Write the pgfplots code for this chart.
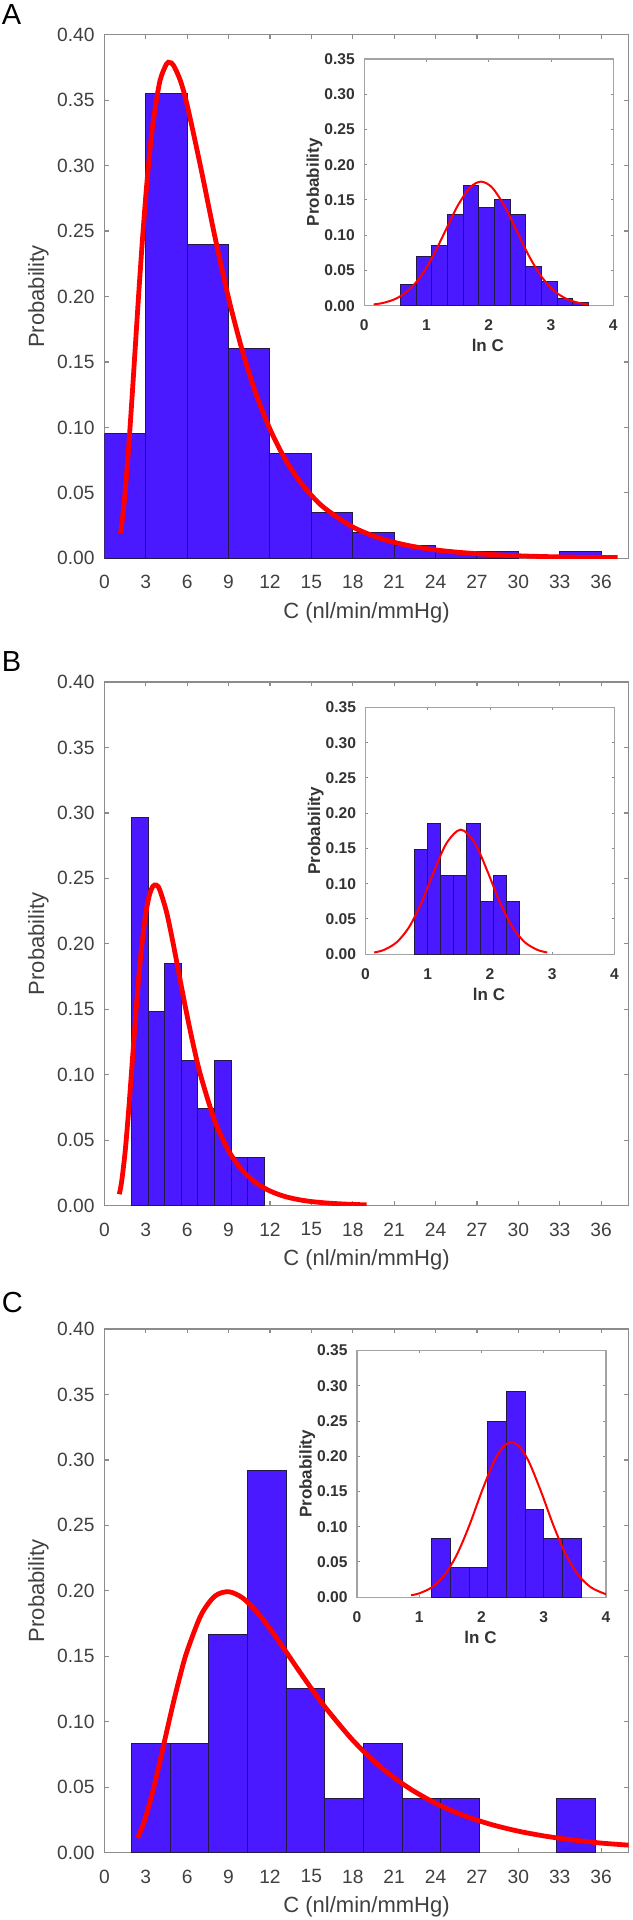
\documentclass[border=0pt]{standalone}
\usepackage{fontspec}
\setmainfont{Liberation Sans}
\usepackage{pgfplots}
\pgfplotsset{compat=1.18}
\definecolor{barblue}{RGB}{75,25,255}
\definecolor{baredge}{RGB}{35,25,70}
\definecolor{axgray}{RGB}{140,140,140}
\definecolor{txtgray}{RGB}{64,64,64}
\definecolor{curvered}{RGB}{255,0,0}
\pgfplotsset{
  mainax/.style={
    scale only axis, width=262.15pt, height=261.8pt, anchor=north west,
    xmin=0, xmax=38, ymin=0, ymax=0.40,
    xtick={0,3,6,9,12,15,18,21,24,27,30,33,36},
    ytick={0,0.05,0.10,0.15,0.20,0.25,0.30,0.35,0.40},
    /pgf/number format/assume math mode=true,
    yticklabel style={/pgf/number format/fixed,/pgf/number format/fixed zerofill,/pgf/number format/precision=2, xshift=-1.4pt},
    tick label style={font=\fontsize{9.6}{11}\selectfont, text=txtgray},
    xticklabel style={yshift=-5pt},
    axis line style={axgray, line width=0.7pt},
    tick style={axgray, line width=0.6pt},
    major tick length=2.2pt,
    xlabel={C (nl/min/mmHg)}, ylabel={Probability},
    label style={font=\fontsize{11}{13}\selectfont, text=txtgray},
    xlabel style={at={(axis description cs:0.5,-0.104)}, anchor=center},
    ylabel style={at={(axis description cs:-0.126,0.5)}, anchor=center},
  },
  insetax/.style={
    scale only axis, width=124.5pt, height=123.35pt, anchor=north west,
    xmin=0, xmax=4, ymin=0, ymax=0.35,
    xtick={0,1,2,3,4},
    ytick={0,0.05,0.10,0.15,0.20,0.25,0.30,0.35},
    /pgf/number format/assume math mode=true,
    yticklabel style={/pgf/number format/fixed,/pgf/number format/fixed zerofill,/pgf/number format/precision=2, xshift=-1.2pt},
    tick label style={font=\bfseries\fontsize{7.8}{9}\selectfont, text=black!80},
    xticklabel style={yshift=-3.6pt},
    axis line style={axgray!80, line width=0.6pt},
    tick style={axgray, line width=0.5pt},
    major tick length=1.3pt,
    axis background/.style={fill=white},
    xlabel={ln C}, ylabel={Probability},
    label style={font=\bfseries\fontsize{8.5}{10}\selectfont, text=black!80},
    xlabel style={at={(axis description cs:0.496,-0.162)}, anchor=center},
    ylabel style={at={(axis description cs:-0.2,0.5)}, anchor=center},
  },
  hbar/.style={ybar interval, fill=barblue, draw=baredge, line width=0.5pt},
  bigcurve/.style={curvered, line width=2.4pt, smooth, no markers},
  smallcurve/.style={curvered, line width=1pt, smooth, no markers},
}
\begin{document}
\begin{tikzpicture}
\path[use as bounding box] (0,0) rectangle (316pt,-960pt);

% ---------------- Panel A ----------------
\node[anchor=base west, inner sep=0, font=\fontsize{14.5}{16}\selectfont] at (0.8pt,-12.5pt) {A};
\begin{axis}[mainax, at={(52.2pt,-17.35pt)}]
\addplot[hbar] coordinates {(0,0.095) (3,0.355) (6,0.24) (9,0.16) (12,0.08) (15,0.035) (18,0.02) (21,0.01) (24,0.005) (27,0.005) (30,0)};
\addplot[hbar] coordinates {(33,0.005) (36,0)};
\addplot[bigcurve] coordinates {
(1.17,0.0191) (1.3,0.0295) (1.5,0.0504) (1.75,0.0837) (2,0.1223) (2.25,0.1633) (2.5,0.2042) (2.75,0.2424)
(3,0.2768) (3.25,0.3064) (3.5,0.3306) (4,0.3635) (4.5,0.3776) (4.75,0.3787) (5,0.3767) (5.5,0.3651) (6,0.3462)
(7,0.2977) (8,0.2461) (9,0.1988) (10,0.1585) (11,0.1253) (12,0.0987) (13,0.0776) (14,0.0611) (15,0.0481)
(16,0.0380) (18,0.0239) (20,0.0152) (22,0.0098) (24,0.0064) (26,0.0043) (28,0.0029) (30,0.0019)
(32,0.0013) (34,0.0009) (36,0.0007) (37.2,0.0005)};
\end{axis}
\begin{axis}[insetax, at={(182.15pt,-29.5pt)}]
\addplot[hbar] coordinates {(0.585,0.03) (0.836,0.07) (1.087,0.085) (1.339,0.13) (1.590,0.17) (1.841,0.14) (2.092,0.15) (2.343,0.13) (2.595,0.055) (2.846,0.035) (3.097,0.01) (3.348,0.005) (3.599,0)};
\addplot[smallcurve] coordinates {
(0.15,0.0018) (0.3,0.0039) (0.5,0.0096) (0.7,0.0210) (0.9,0.0408) (1.1,0.0698) (1.3,0.1058) (1.5,0.1418)
(1.7,0.1679) (1.875,0.176) (2.05,0.1679) (2.25,0.1418) (2.45,0.1058) (2.65,0.0698) (2.85,0.0408)
(3.05,0.0210) (3.25,0.0096) (3.45,0.0039) (3.6,0.0018)};
\end{axis}

% ---------------- Panel B ----------------
\node[anchor=base west, inner sep=0, font=\fontsize{14.5}{16}\selectfont] at (0.8pt,-335.5pt) {B};
\begin{axis}[mainax, at={(52.2pt,-341pt)}]
\addplot[hbar] coordinates {(1.95,0.2963) (3.16,0.1481) (4.37,0.1852) (5.57,0.1111) (6.78,0.0741) (7.98,0.1111) (9.18,0.0370) (10.38,0.0370) (11.58,0)};
\addplot[bigcurve] coordinates {
(1.08,0.0087) (1.25,0.0184) (1.5,0.0409) (1.75,0.0717) (2,0.1071) (2.25,0.1429) (2.5,0.1756) (2.75,0.2027)
(3,0.2232) (3.25,0.2367) (3.5,0.2437) (3.75,0.2449) (4,0.2415) (4.5,0.2244) (5,0.1994) (5.5,0.1718)
(6,0.1448) (6.5,0.1201) (7,0.0985) (8,0.0647) (9,0.0419) (10,0.0269) (11,0.0173) (12,0.0112)
(13,0.0072) (14,0.0047) (15,0.0031) (16,0.0021) (17,0.0014) (18,0.0009) (19,0.0006)};
\end{axis}
\begin{axis}[insetax, at={(182.75pt,-353.75pt)}]
\addplot[hbar] coordinates {(0.79,0.1481) (1.0,0.1852) (1.21,0.1111) (1.42,0.1111) (1.63,0.1852) (1.84,0.0741) (2.05,0.1111) (2.26,0.0741) (2.47,0)};
\addplot[smallcurve] coordinates {
(0.14,0.0024) (0.3,0.0062) (0.5,0.0169) (0.7,0.0384) (0.9,0.0734) (1.1,0.1174) (1.3,0.1572) (1.53,0.1768)
(1.76,0.1572) (1.96,0.1174) (2.16,0.0734) (2.36,0.0384) (2.56,0.0169) (2.76,0.0062) (2.92,0.0024)};
\end{axis}

% ---------------- Panel C ----------------
\node[anchor=base west, inner sep=0, font=\fontsize{14.5}{16}\selectfont] at (0.8pt,-656pt) {C};
\begin{axis}[mainax, at={(52.2pt,-664.5pt)}]
\addplot[hbar] coordinates {(1.955,0.0833) (4.759,0.0833) (7.563,0.1667) (10.367,0.2917) (13.171,0.125) (15.975,0.0417) (18.779,0.0833) (21.583,0.0417) (24.387,0.0417) (27.191,0)};
\addplot[hbar] coordinates {(32.799,0.0417) (35.603,0)};
\addplot[bigcurve] coordinates {
(2.4,0.0112) (2.75,0.0198) (3,0.0275) (3.5,0.0465) (4,0.0685) (4.5,0.0918) (5,0.1146) (5.5,0.1357)
(6,0.1541) (7,0.1814) (8,0.1959) (9,0.1993) (10,0.1947) (11,0.1845) (12,0.1711) (13,0.1560)
(14,0.1405) (15,0.1254) (16,0.1111) (18,0.0859) (20,0.0656) (22,0.0498) (24,0.0377) (26,0.0285)
(28,0.0216) (30,0.0164) (32,0.0125) (34,0.0096) (36,0.0073) (38,0.0057)};
\end{axis}
\begin{axis}[insetax, at={(178.5pt,-675.25pt)}]
\addplot[hbar] coordinates {(1.2,0.0833) (1.5,0.0417) (1.8,0.0417) (2.1,0.25) (2.4,0.2917) (2.7,0.125) (3.0,0.0833) (3.3,0.0833) (3.6,0)};
\addplot[smallcurve] coordinates {
(0.87,0.0028) (1.0,0.0055) (1.2,0.0139) (1.4,0.0308) (1.6,0.0596) (1.8,0.1008) (2.0,0.1490) (2.2,0.1925)
(2.35,0.2134) (2.48,0.2196) (2.61,0.2134) (2.76,0.1925) (2.96,0.1490) (3.16,0.1008) (3.36,0.0596)
(3.56,0.0308) (3.76,0.0139) (3.96,0.0055) (4.0,0.0045)};
\end{axis}
\end{tikzpicture}
\end{document}
